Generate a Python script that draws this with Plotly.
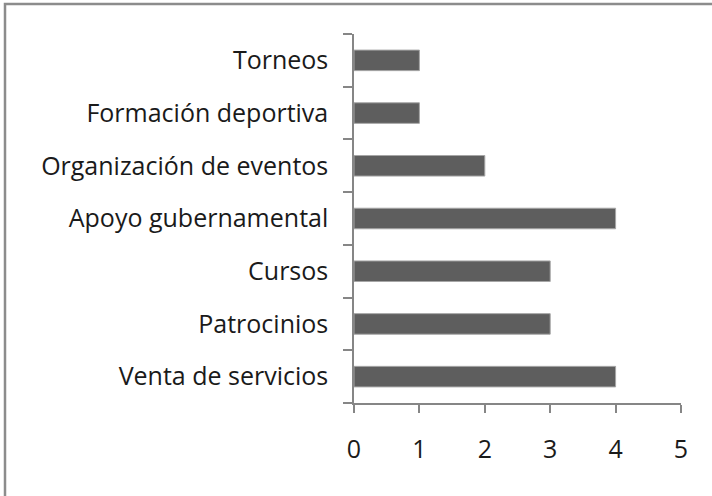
import plotly.graph_objects as go

categories = ["Venta de servicios", "Patrocinios", "Cursos", "Apoyo gubernamental",
              "Organización de eventos", "Formación deportiva", "Torneos"]
values = [4, 3, 3, 4, 2, 1, 1]
x_ticks = [0, 1, 2, 3, 4, 5]

L, R, T, B = 354, 681, 34, 403
W, H = 712, 496
pw, ph = R - L, B - T

fig = go.Figure(go.Bar(
    y=categories, x=values, orientation="h",
    marker=dict(color="#5e5e5e", line=dict(color="#a6a6a6", width=1)),
    hoverinfo="x+y",
))

font = dict(family="Open Sans, Liberation Sans, sans-serif", size=25, color="#1a1a1a")
fig.update_layout(
    width=W, height=H,
    margin=dict(l=L, r=W - R, t=T, b=H - B, pad=0),
    paper_bgcolor="white", plot_bgcolor="white",
    bargap=0.61, showlegend=False,
    font=font,
    xaxis=dict(range=[0, 5], tickvals=x_ticks, showgrid=False, zeroline=False,
               showline=True, linecolor="#868686", linewidth=1.5,
               ticks="outside", ticklen=8, tickcolor="#868686", tickwidth=1.5,
               tickfont=font, ticklabelstandoff=15, fixedrange=True),
    yaxis=dict(categoryorder="array", categoryarray=categories, showgrid=False,
               showline=True, linecolor="#868686", linewidth=1.5,
               ticks="outside", tickson="boundaries", ticklen=9, tickcolor="#868686",
               tickwidth=1.5, tickfont=font, ticklabelstandoff=19, fixedrange=True),
)
fig.add_shape(type="rect", xref="paper", yref="paper",
              x0=(5 - L) / pw, x1=(W + 20 - L) / pw,
              y0=(B - (H + 20)) / ph, y1=(B - 4) / ph,
              line=dict(color="#8c8c8c", width=2.5), fillcolor="rgba(0,0,0,0)", layer="below")
fig.write_html("out.html", config={"displayModeBar": False},
               post_script="document.body.style.margin='0';document.body.style.overflow='hidden';")
